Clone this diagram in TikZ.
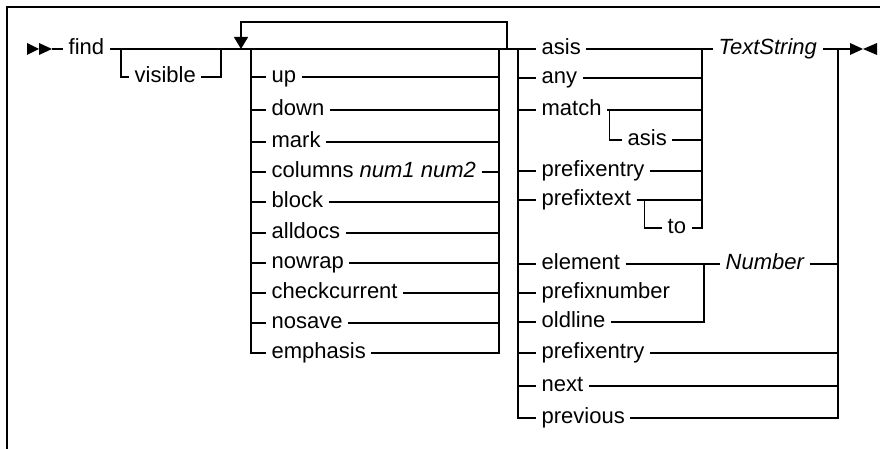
\documentclass[tikz,border=0pt]{standalone}
\usepackage{fontspec}
\setmainfont{Liberation Sans}
\usetikzlibrary{arrows.meta}

\begin{document}
\begin{tikzpicture}[x=1pt,y=-1pt, line width=1.3pt,
  lbl/.style={font=\fontsize{22}{26}\selectfont, inner xsep=5pt, inner ysep=0pt,
              text height=13pt, text depth=1.6pt, anchor=west},
  var/.style={lbl, font=\fontsize{22}{26}\selectfont\itshape},
  marker/.style={fill=black, draw=none}]
\useasboundingbox (0,0) rectangle (880,449);

% frame
\draw[line width=1.6pt] (7,449) -- (7,7) -- (880,7);

% junction points
\coordinate (start)    at (52,49);
\coordinate (vsplit)   at (121,49);
\coordinate (vjoin)    at (221,49);
\coordinate (loopdrop) at (241,49);
\coordinate (optL)     at (251,49);
\coordinate (optR)     at (499,49);
\coordinate (loopup)   at (507,49);
\coordinate (kindL)    at (518,49);
\coordinate (tsbus)    at (702,49);
\coordinate (numbus)   at (704,264);
\coordinate (endbus)   at (838,49);
\coordinate (finish)   at (850,49);

% start and end markers
\fill[marker] (27,43) -- (39,49) -- (27,55) -- cycle;
\fill[marker] (39,43) -- (52,49) -- (39,55) -- cycle;
\fill[marker] (850,43) -- (863,49) -- (850,55) -- cycle;
\fill[marker] (877,43) -- (863,49) -- (877,55) -- cycle;

% keyword and option labels
\node[lbl] (find)    at (63,49)  {find};
\node[lbl] (visible) at (129,77) {visible};

\node[lbl] (up)           at (266,77)  {up};
\node[lbl] (down)         at (266,110) {down};
\node[lbl] (mark)         at (266,142) {mark};
\node[lbl] (columns)      at (266,172) {columns \textit{num1 num2}};
\node[lbl] (block)        at (266,202) {block};
\node[lbl] (alldocs)      at (266,233) {alldocs};
\node[lbl] (nowrap)       at (266,263) {nowrap};
\node[lbl] (checkcurrent) at (266,293) {checkcurrent};
\node[lbl] (nosave)       at (266,323) {nosave};
\node[lbl] (emphasis)     at (266,353) {emphasis};

\node[lbl] (asis)         at (536,49)  {asis};
\node[lbl] (any)          at (536,78)  {any};
\node[lbl] (match)        at (536,110) {match};
\node[lbl] (asis2)        at (622,140) {asis};
\node[lbl] (prefixentry)  at (536,171) {prefixentry};
\node[lbl] (prefixtext)   at (536,200) {prefixtext};
\node[lbl] (to)           at (662,228) {to};
\node[lbl] (element)      at (536,264) {element};
\node[lbl] (prefixnumber) at (536,293) {prefixnumber};
\node[lbl] (oldline)      at (536,322) {oldline};
\node[lbl] (prefixentry2) at (536,353) {prefixentry};
\node[lbl] (next)         at (536,386) {next};
\node[lbl] (previous)     at (536,418) {previous};

\node[var] (ts)  at (713,49)  {TextString};
\node[var] (num) at (720,264) {Number};

% main line
\draw (start) -- (find.west);
\draw (find.east) -- (vsplit) -- (vjoin) -- (loopdrop) -- (optL) -- (optR)
      -- (loopup) -- (kindL) -- (asis.west);

% optional "visible"
\draw (vsplit) |- (visible.west);
\draw (visible.east) -| (vjoin);

% repeatable option group
\draw[-{Triangle[length=12pt,width=14pt]}] (loopup) -- ++(0,-27) -| (loopdrop);
\draw (optL) |- (emphasis.west);
\foreach \n in {up,down,mark,columns,block,alldocs,nowrap,checkcurrent,nosave}{
  \draw (\n.west -| optL) -- (\n.west);
  \draw (\n.east) -- (\n.east -| optR);
}
\draw (emphasis.east) -| (optR);

% search kind group
\draw (kindL) |- (previous.west);
\foreach \n in {any,match,prefixentry,prefixtext,element,prefixnumber,oldline,prefixentry2,next}
  \draw (\n.west -| kindL) -- (\n.west);

% text string branches
\draw (asis.east) -- (ts.west);
\foreach \n in {any,match,prefixentry,prefixtext}
  \draw (\n.east) -- (\n.east -| tsbus);
\coordinate (msplit) at ([xshift=2pt]match.east);
\draw (msplit) |- (asis2.west);
\draw (asis2.east) -- (asis2.east -| tsbus);
\coordinate (psplit) at ([xshift=8pt]prefixtext.east);
\draw (psplit) |- (to.west);
\draw (to.east) -| (tsbus);
\draw (ts.east) -- (finish);

% number branches
\draw (element.east) -- (num.west);
\draw (oldline.east) -| (numbus);
\draw (num.east) -- (num.east -| endbus);
\foreach \n in {prefixentry2,next}
  \draw (\n.east) -- (\n.east -| endbus);
\draw (previous.east) -| (endbus);
\end{tikzpicture}
\end{document}
